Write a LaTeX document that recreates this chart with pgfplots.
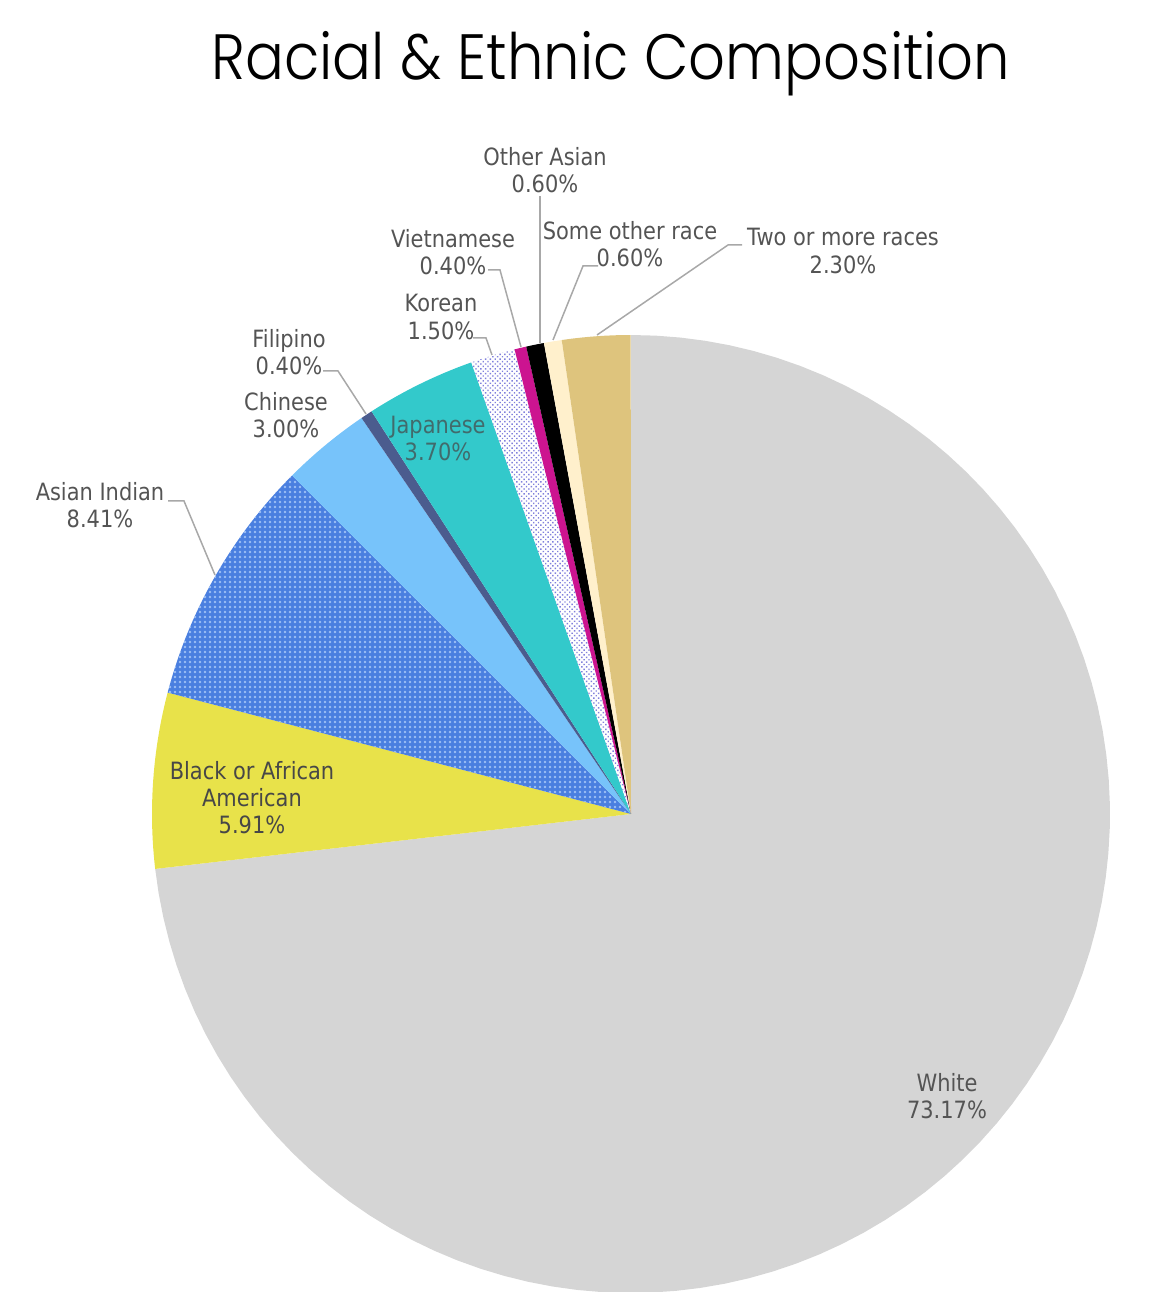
\documentclass[border=0pt]{standalone}
\usepackage{pgfplots}
\pgfplotsset{compat=1.18}
\usepackage{fontspec}
\setmainfont{DejaVu Sans}[FakeStretch=0.88]
\newfontfamily\titlefont{Poppins}[UprightFont={* Light}]
\usetikzlibrary{patterns.meta}
\definecolor{cWhite}{HTML}{D5D5D5}
\definecolor{cBlack}{HTML}{E8E24A}
\definecolor{cAI}{HTML}{4A7FE0}
\definecolor{dAI}{HTML}{9DC0F5}
\definecolor{cChi}{HTML}{77C3FA}
\definecolor{cFil}{HTML}{4B5C8E}
\definecolor{cJap}{HTML}{33C9CB}
\definecolor{dKor}{HTML}{8080DC}
\definecolor{cVie}{HTML}{CC1490}
\definecolor{cSom}{HTML}{FFF0CC}
\definecolor{cTwo}{HTML}{DEC47D}
\definecolor{labc}{HTML}{545454}
\definecolor{linec}{HTML}{A8A8A8}
\tikzset{lab/.style={font=\fontsize{11.9pt}{13.5pt}\selectfont, text=labc, align=center, inner sep=0pt}}
% start (cumulative %), share (%), style
\newcommand{\slice}[3]{%
  \addplot[draw=none,#3,domain={90-3.6*(#1+#2)}:{90-3.6*(#1)},samples=90,variable=\t]
    ({631+479*cos(\t)},{478+479*sin(\t)}) -- (axis cs:631,478) -- cycle;
}
\begin{document}
\begin{tikzpicture}
\begin{axis}[
  x=0.5pt, y=0.5pt, xmin=0, xmax=1161, ymin=0, ymax=1292,
  hide axis, scale only axis, clip=true,
]
\slice{0}{73.17}{fill=cWhite}
\slice{73.17}{5.91}{fill=cBlack}
\slice{79.08}{8.41}{fill=cAI, postaction={pattern={Dots[distance=2.5pt,radius=0.65pt]}, pattern color=dAI}}
\slice{87.49}{3.00}{fill=cChi}
\slice{90.49}{0.40}{fill=cFil}
\slice{90.89}{3.70}{fill=cJap}
\slice{94.59}{1.50}{fill=white, postaction={pattern={Dots[distance=1.7pt,radius=0.5pt,angle=45]}, pattern color=dKor}}
\slice{96.09}{0.40}{fill=cVie}
\slice{96.49}{0.60}{fill=black}
\slice{97.09}{0.60}{fill=cSom}
\slice{97.69}{2.30}{fill=cTwo}
% leader lines
\addplot[linec, line width=0.75pt] coordinates {(540,949) (540,1096)};
\addplot[linec, line width=0.75pt] coordinates {(521,945) (500,1022) (488,1022)};
\addplot[linec, line width=0.75pt] coordinates {(553,952) (583,1026) (598,1026)};
\addplot[linec, line width=0.75pt] coordinates {(597,957) (728,1047) (742,1047)};
\addplot[linec, line width=0.75pt] coordinates {(492,937) (486,954) (473,954)};
\addplot[linec, line width=0.75pt] coordinates {(366,878) (338,921) (323,921)};
\addplot[linec, line width=0.75pt] coordinates {(215,717) (184,791) (168,791)};
% labels
\node[lab] at (axis cs:545,1122) {Other Asian\\0.60\%};
\node[lab] at (axis cs:453,1040) {Vietnamese\\0.40\%};
\node[lab] at (axis cs:630,1048) {Some other race\\0.60\%};
\node[lab] at (axis cs:843,1041) {Two or more races\\2.30\%};
\node[lab] at (axis cs:441,975) {Korean\\1.50\%};
\node[lab] at (axis cs:289,940) {Filipino\\0.40\%};
\node[lab] at (axis cs:286,877) {Chinese\\3.00\%};
\node[lab, text=cJap!35!black!80] at (axis cs:438,854) {Japanese\\3.70\%};
\node[lab, text=black!72] at (axis cs:252,494) {Black or African\\American\\5.91\%};
\node[lab] at (axis cs:100,787) {Asian Indian\\8.41\%};
\node[lab] at (axis cs:947,196) {White\\73.17\%};
\node[inner sep=0pt, font=\titlefont\fontsize{32pt}{36pt}\selectfont] at (axis cs:611,1228) {\scalebox{0.9}[1]{Racial \& Ethnic Composition}};
\end{axis}
\pgfresetboundingbox
\path (current axis.south west) rectangle (current axis.north east);
\end{tikzpicture}
\end{document}
